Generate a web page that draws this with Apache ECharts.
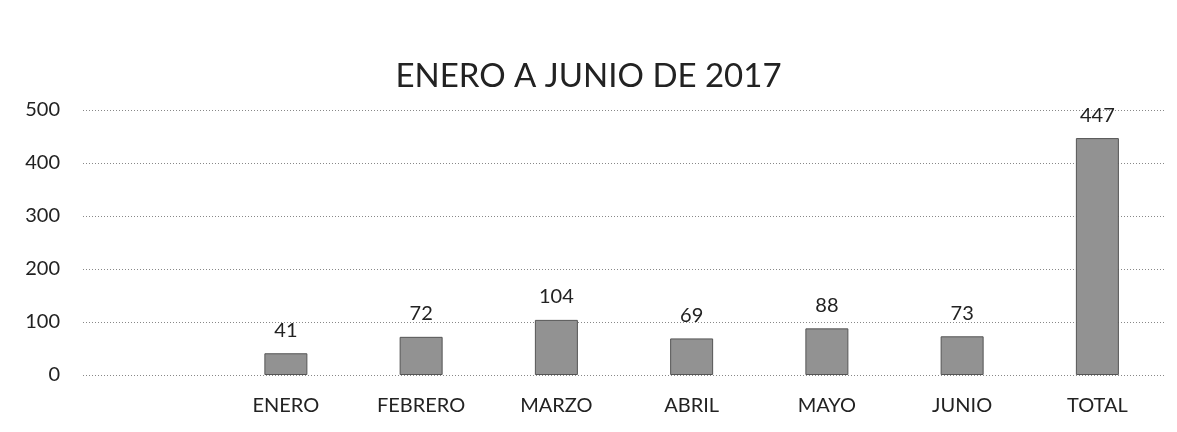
<!DOCTYPE html>
<html>
<head>
<meta charset="utf-8">
<script src="https://cdn.jsdelivr.net/npm/echarts@6/dist/echarts.min.js"></script>
<style>
	html, body { margin: 0; padding: 0; background: #fff; }
	#chart { width: 1177px; height: 432px; }
</style>
</head>
<body>
<div id="chart"></div>
<script>
	// categorias (la primera vacia, como en el original)
	const meses = ['', 'ENERO', 'FEBRERO', 'MARZO', 'ABRIL', 'MAYO', 'JUNIO', 'TOTAL']
	const casos = [null, 41, 72, 104, 69, 88, 73, 447]
	const ticksY = [0, 100, 200, 300, 400, 500]

	const chart = echarts.init(document.getElementById('chart'))
	const option = {
		animation: false,
		textStyle: { fontFamily: 'Lato' },
		title: {
			text: 'ENERO A JUNIO DE 2017',
			left: 'center',
			top: 55,
			textStyle: { fontFamily: 'Lato', fontSize: 33, fontWeight: 'normal', color: '#222' }
		},
		grid: { left: 83, right: 12, top: 110, bottom: 57 },
		xAxis: {
			type: 'category',
			data: meses,
			axisLine: { show: false },
			axisTick: { show: false },
			axisLabel: { color: '#222', fontSize: 20, margin: 21 }
		},
		yAxis: {
			type: 'value',
			min: ticksY[0],
			max: ticksY[ticksY.length - 1],
			interval: 100,
			axisLine: { show: false },
			axisTick: { show: false },
			axisLabel: { color: '#222', fontSize: 20, margin: 23 },
			splitLine: { lineStyle: { type: [1, 2], color: '#888', width: 1 } }
		},
		series: [{
			type: 'bar',
			data: casos,
			barWidth: 43,
			itemStyle: { color: '#929292', borderColor: '#555', borderWidth: 1 },
			label: {
				show: true,
				position: 'top',
				distance: 13,
				color: '#222',
				fontSize: 20,
				fontFamily: 'Lato'
			}
		}]
	}
	chart.setOption(option)
</script>
</body>
</html>
